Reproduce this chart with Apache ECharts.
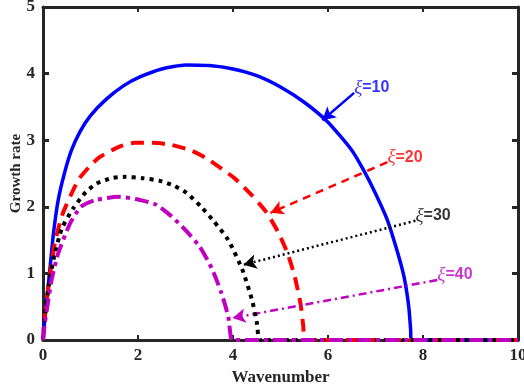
<!DOCTYPE html>
<html><head><meta charset="utf-8">
<script src="https://cdn.jsdelivr.net/npm/echarts@6/dist/echarts.min.js"></script>
<style>html,body{margin:0;padding:0;background:#fff}#c{width:524px;height:392px}</style>
</head><body><div id="c"></div>
<script>
// Data: [wavenumber, growth rate]
var xi10 = [[0,0],[0.03,0.25],[0.08,0.6],[0.15,1.1],[0.22,1.6],[0.32,2.1],[0.45,2.5],[0.6,2.85],[0.78,3.13],[1.0,3.37],[1.34,3.62],[1.7,3.82],[2.04,3.95],[2.5,4.07],[3.0,4.13],[3.5,4.12],[4.0,4.07],[4.5,3.97],[5.0,3.8],[5.5,3.57],[6.0,3.27],[6.5,2.85],[6.75,2.55],[7.0,2.2],[7.25,1.8],[7.45,1.35],[7.6,0.95],[7.7,0.5],[7.74,0.15],[7.75,0],[7.8,0],[10,0]];
var xi20 = [[0,0],[0.03,0.3],[0.08,0.6],[0.15,1.0],[0.25,1.45],[0.4,1.87],[0.74,2.4],[1.0,2.62],[1.2,2.75],[1.6,2.9],[1.93,2.96],[2.3,2.96],[2.7,2.93],[3.1,2.85],[3.44,2.73],[4.03,2.43],[4.4,2.17],[4.7,1.92],[4.95,1.62],[5.15,1.3],[5.3,0.95],[5.42,0.55],[5.48,0.2],[5.5,0],[5.55,0],[10,0]];
var xi30 = [[0,0],[0.03,0.3],[0.08,0.6],[0.15,0.95],[0.25,1.3],[0.4,1.68],[0.64,1.98],[0.9,2.22],[1.13,2.35],[1.45,2.43],[1.72,2.45],[2.1,2.43],[2.46,2.39],[2.75,2.32],[3.02,2.21],[3.33,2.0],[3.6,1.78],[3.9,1.5],[4.2,1.05],[4.4,0.6],[4.5,0.27],[4.55,0],[4.6,0],[10,0]];
var xi40 = [[0,0],[0.03,0.2],[0.08,0.45],[0.18,0.9],[0.32,1.3],[0.57,1.75],[0.8,2.0],[1.1,2.1],[1.58,2.15],[2.0,2.11],[2.39,2.03],[2.7,1.86],[3.0,1.65],[3.3,1.4],[3.55,1.08],[3.75,0.72],[3.9,0.35],[3.97,0],[4.02,0],[10,0]];
var seriesNames = ['ξ=10','ξ=20','ξ=30','ξ=40'];
var labelValues = ['10','20','30','40'];
// annotation arrows: [start, tip]
var arrows = [[[6.55,3.71],[5.88,3.30]],[[7.25,2.67],[4.79,1.91]],[[7.84,1.79],[4.22,1.13]],[[8.30,0.90],[3.99,0.33]]];
var xTicks = [0,2,4,6,8,10];
var yTicks = [0,1,2,3,4,5];

var colors = ['#0000ff','#ff0000','#000000','#c000c0'];
var dashes = ['solid',[13,8],[4,5],[14,5,4,5]];
var widths = [3.5,4,4,4];
var arrowDashes = ['solid',[8,6],[2,3],[8,4,2,4]];
var datas = [xi10,xi20,xi30,xi40];

var series = [];
for (var i=0;i<4;i++){
  series.push({
    name: seriesNames[i], type:'line', data: datas[i], showSymbol:false, smooth:0.2, clip:false,
    lineStyle:{color:colors[i], width:widths[i], type:dashes[i]}, z:3+i,
    markLine:{
      silent:true, symbol:['none','arrow'], symbolSize:[11,13],
      lineStyle:{color:colors[i], width:2.5, type:arrowDashes[i]},
      label:{show:false},
      data:[[{coord:arrows[i][0]},{coord:arrows[i][1]}]]
    }
  });
  series.push({
    type:'scatter', data:[arrows[i][0]], symbolSize:0, z:10, silent:true,
    label:{show:true, position:'right', distance:0, offset:[0,-5],
      formatter:'{a|ξ}{b|=' + labelValues[i] + '}',
      rich:{a:{fontFamily:'Liberation Serif', fontStyle:'italic', fontSize:19, color:colors[i]},
            b:{fontFamily:'Liberation Sans', fontWeight:'bold', fontSize:16, color:colors[i]}}}
  });
}

var axisLine = {show:true, onZero:false, lineStyle:{color:'#262626', width:3}};
var tickLab = {fontFamily:'Liberation Serif', fontWeight:'bold', fontSize:17, color:'#262626'};
var chart = echarts.init(document.getElementById('c'));
chart.setOption({
  animation:false,
  grid:{left:43, right:6, top:7, bottom:52, containLabel:false, outerBoundsMode:'none'},
  xAxis:[{type:'value', min:0, max:10, interval:2, position:'bottom',
          name:'Wavenumber', nameLocation:'middle', nameGap:27,
          nameTextStyle:{fontFamily:'Liberation Serif', fontWeight:'bold', fontSize:17, color:'#262626'},
          axisLine:axisLine, axisTick:{inside:true, length:5, lineStyle:{width:2,color:'#262626'}},
          axisLabel:Object.assign({margin:7, formatter:function(v){return xTicks.indexOf(v)>=0?String(v):'';}}, tickLab), splitLine:{show:false}},
         {type:'value', min:0, max:10, interval:2, position:'top', axisLine:axisLine,
          axisTick:{inside:true, length:5, lineStyle:{width:2,color:'#262626'}}, axisLabel:{show:false}, splitLine:{show:false}}],
  yAxis:[{type:'value', min:0, max:5, interval:1, position:'left',
          name:'Growth rate', nameLocation:'middle', nameGap:19, nameMoveOverlap:false,
          nameTextStyle:{fontFamily:'Liberation Serif', fontWeight:'bold', fontSize:15, color:'#262626'},
          axisLine:axisLine, axisTick:{inside:true, length:6, lineStyle:{width:3,color:'#262626'}},
          axisLabel:Object.assign({margin:8, formatter:function(v){return yTicks.indexOf(v)>=0?String(v):'';}}, tickLab), splitLine:{show:false}},
         {type:'value', min:0, max:5, interval:1, position:'right', axisLine:axisLine,
          axisTick:{inside:true, length:6, lineStyle:{width:3,color:'#262626'}}, axisLabel:{show:false}, splitLine:{show:false}}],
  series: series
});
</script></body></html>
